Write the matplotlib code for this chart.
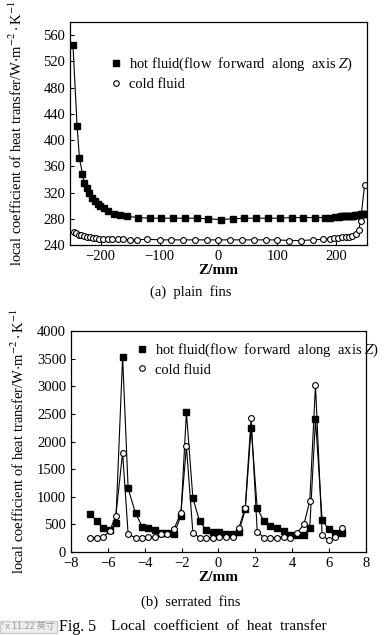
import matplotlib
matplotlib.use("Agg")
import matplotlib.pyplot as plt
from matplotlib.lines import Line2D

plt.rcParams['font.family'] = ['Liberation Serif', 'DejaVu Serif']
plt.rcParams['mathtext.fontset'] = 'stix'

# (a) plain fins
z_hot_a = [-247, -240, -236, -231, -228, -224, -219, -215, -210, -205, -201, -195, -187,
           -177, -168, -156, -137, -117, -97, -77, -57, -37, -17, 4, 24, 44, 64, 84, 104,
           124, 144, 164, 180, 190, 198, 204, 208, 211, 214, 217, 220, 223, 226, 229, 232,
           235, 238, 241, 244, 247, 250]
hot_a = [545, 422, 373, 349, 335, 327, 319, 312, 307, 303, 299, 296, 292,
         288, 286, 284, 282, 281, 281, 281, 281, 281, 280, 279, 280, 281, 281, 281, 281,
         282, 282, 282, 282, 282, 283, 283, 284, 284, 284, 284, 285, 285, 285, 285, 286,
         286, 286, 287, 287, 287, 288]

z_cold_a = [-246, -242, -237, -233, -228, -223, -218, -213, -208, -202, -196, -188, -180,
            -171, -162, -151, -139, -121, -100, -80, -60, -40, -20, 0, 20, 40, 60, 80, 100,
            120, 140, 160, 178, 190, 196, 203, 210, 216, 221, 227, 233, 238, 241, 248]
cold_a = [260, 258, 256, 255, 254, 253, 252, 251, 251, 250, 250, 249, 249,
          249, 249, 248, 248, 249, 248, 248, 248, 248, 248, 248, 248, 248, 248, 248, 248,
          247, 247, 248, 249, 250, 251, 251, 252, 252, 253, 254, 257, 263, 276, 332]

# (b) serrated fins
z_b = [-6.98, -6.58, -6.25, -5.91, -5.57, -5.2, -4.9, -4.5, -4.14, -3.81, -3.47, -3.11,
       -2.78, -2.42, -2.04, -1.74, -1.39, -1.03, -0.67, -0.31, 0.05, 0.42, 0.78, 1.1,
       1.45, 1.77, 2.1, 2.46, 2.82, 3.18, 3.54, 3.9, 4.27, 4.63, 4.95, 5.26, 5.62, 5.98,
       6.34, 6.71]
hot_b = [690, 560, 430, 390, 520, 3530, 1150, 700, 460, 430, 390, 340,
         340, 330, 650, 2530, 980, 560, 400, 370, 360, 330, 330, 360,
         770, 2250, 790, 560, 470, 430, 380, 310, 310, 310, 440, 2400, 580, 410,
         340, 340]
cold_b = [260, 260, 270, 380, 650, 1800, 320, 260, 260, 270, 280, 320,
          330, 410, 710, 1910, 350, 260, 260, 260, 270, 270, 280, 430,
          800, 2420, 370, 260, 260, 260, 280, 250, 350, 500, 920, 3020, 300, 210,
          280, 430]

ylab = "local coefficient of heat transfer/W$\\cdot$m$^{-2}\\cdot$K$^{-1}$"
leg_labels = ["hot fluid(flow  forward  along  axis $Z$)", "cold fluid"]

fig = plt.figure(figsize=(3.9, 6.35), dpi=100)
ax1 = fig.add_axes([0.1795, 0.614, 0.7615, 0.3512])
ax2 = fig.add_axes([0.182, 0.1307, 0.7565, 0.348])

def style(ax):
    ax.tick_params(direction='in', labelsize=10.5, length=3, width=0.8)
    for s in ax.spines.values():
        s.set_linewidth(0.9)
    ax.set_ylabel(ylab, fontsize=10.5)
    ax.yaxis.set_label_coords(-0.15, 0.5)
    ax.set_xlabel("Z/mm", fontsize=11, fontweight='bold', labelpad=1)

ax1.plot(z_hot_a, hot_a, color='black', lw=0.8, marker='s', ms=4.2, mfc='black', mec='black')
ax1.plot(z_cold_a, cold_a, color='black', lw=0.8, marker='o', ms=4.2, mfc='white', mec='black', mew=0.8)
ax1.set_xlim(-252, 252)
ax1.set_ylim(240, 580)
ax1.set_yticks(range(240, 561, 40))
ax1.set_xticks([-200, -100, 0, 100, 200])
style(ax1)

ax2.plot(z_b, hot_b, color='black', lw=0.8, marker='s', ms=4.2, mfc='black', mec='black')
ax2.plot(z_b, cold_b, color='black', lw=0.8, marker='o', ms=4.2, mfc='white', mec='black', mew=0.8)
ax2.set_xlim(-8, 8)
ax2.set_ylim(0, 4000)
ax2.set_yticks(range(0, 4001, 500))
ax2.set_xticks(range(-8, 9, 2))
style(ax2)

handles = [Line2D([], [], ls='none', marker='s', ms=4, mfc='black', mec='black'),
           Line2D([], [], ls='none', marker='o', ms=4, mfc='white', mec='black', mew=0.8)]
ax1.legend(handles, leg_labels, loc='upper left', bbox_to_anchor=(0.115, 0.88), frameon=False,
           fontsize=10.5, handlelength=0.6, handletextpad=0.6, labelspacing=0.3, borderpad=0)
ax2.legend(handles, leg_labels, loc='upper left', bbox_to_anchor=(0.2, 0.985), frameon=False,
           fontsize=10.5, handlelength=0.6, handletextpad=0.6, labelspacing=0.3, borderpad=0)

fig.text(0.49, 0.54, "(a)  plain  fins", ha='center', va='center', fontsize=10.5)
fig.text(0.49, 0.052, "(b)  serrated  fins", ha='center', va='center', fontsize=10.5)
fig.text(0.152, 0.013, "Fig. 5", ha='left', va='center', fontsize=11.5)
fig.text(0.285, 0.013, "Local  coefficient  of  heat  transfer", ha='left', va='center', fontsize=11)
fig.text(0.003, 0.013, "' x 11.22 英寸", ha='left', va='center', fontsize=6.5, color='#9a9a9a',
         family=['Noto Sans CJK SC', 'DejaVu Sans'],
         bbox=dict(facecolor='#eeeeee', edgecolor='#cccccc', pad=1.2))

fig.savefig("out.png", dpi=100)
